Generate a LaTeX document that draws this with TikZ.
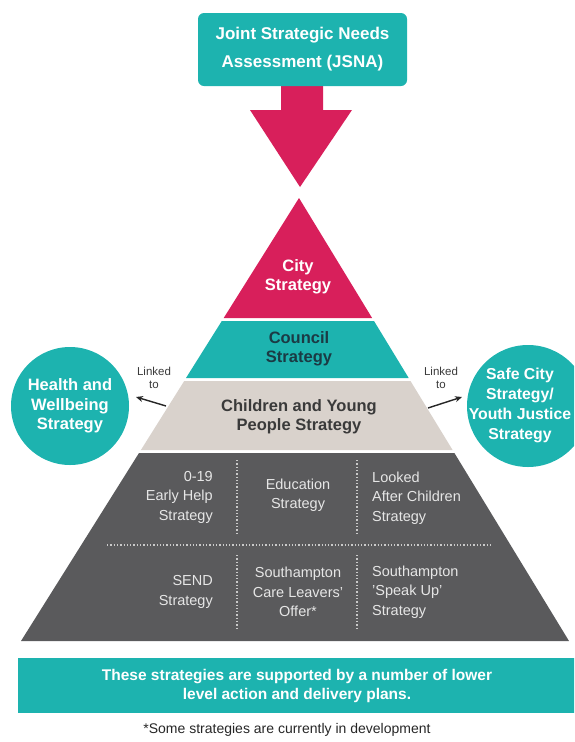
\documentclass[tikz,border=0pt]{standalone}
\usepackage{fontspec}
\setmainfont{Liberation Sans}
\usetikzlibrary{arrows.meta}
\definecolor{tealc}{HTML}{1DB3AF}
\definecolor{magc}{HTML}{D81F5B}
\definecolor{beigec}{HTML}{D9D2CC}
\definecolor{darkc}{HTML}{5A5A5C}
\definecolor{navyc}{HTML}{1B3A44}
\definecolor{greytxt}{HTML}{3A3A3A}
\definecolor{lighttxt}{HTML}{E6E6E6}
\tikzset{
  boldtxt/.style={inner sep=0pt, align=center, font=\bfseries\fontsize{16.5}{19}\selectfont},
  darktxt/.style={inner sep=0pt, text=lighttxt, font=\fontsize{14.5}{19.5}\selectfont},
  linktxt/.style={inner sep=0pt, align=center, text=greytxt, font=\fontsize{11.5}{13}\selectfont},
  circ/.style={circle, fill=tealc, inner sep=0pt, text=white, align=center, font=\bfseries\fontsize{16.5}{19.5}\selectfont},
  linkarrow/.style={-{Stealth[length=7pt,width=6pt]}, line width=1.4pt, black!85},
  dotline/.style={draw=lighttxt!80!darkc, line width=1.3pt, dash pattern=on 1.3pt off 2pt}
}
\begin{document}
\begin{tikzpicture}[x=1pt,y=-1pt]
\useasboundingbox (0,0) rectangle (574,742);
\clip (0,0) rectangle (574,742);
% big arrow
\fill[magc] (281,80) -- (323,80) -- (323,110) -- (352,110) -- (300,187) -- (250,110) -- (281,110) -- cycle;
% JSNA box
\node[fill=tealc, rounded corners=6pt, minimum width=209pt, minimum height=73pt, inner sep=0pt,
  text=white, align=center, font=\bfseries\fontsize{17}{28}\selectfont] (jsna) at (302.5,49.5)
  {Joint Strategic Needs\\Assessment (JSNA)};
% pyramid
\fill[magc] (299,198) -- (223.7,318) -- (372.1,318) -- cycle;
\fill[tealc] (221.8,321) -- (374.0,321) -- (408.7,378) -- (186.0,378) -- cycle;
\fill[beigec] (184.2,381) -- (410.5,381) -- (452.6,450) -- (140.9,450) -- cycle;
\fill[darkc] (139.0,453) -- (454.4,453) -- (569,641) -- (21,641) -- cycle;
% pyramid texts
\node[boldtxt, text=white] (city) at (298,277) {City\\Strategy};
\node[boldtxt, text=navyc] (council) at (299,349) {Council\\Strategy};
\node[boldtxt, text=greytxt] (cyp) at (299,417) {Children and Young\\People Strategy};
% dotted separators
\draw[dotline] (107,545) -- (492,545);
\draw[dotline] (237,460) -- (237,533);
\draw[dotline] (357,460) -- (357,533);
\draw[dotline] (237,555) -- (237,630);
\draw[dotline] (357,555) -- (357,630);
% dark band texts
\node[darktxt, align=right, anchor=east] (early) at (213,497) {0-19\\Early Help\\Strategy};
\node[darktxt, align=center] (edu) at (298,495) {Education\\Strategy};
\node[darktxt, align=left, anchor=west] (lac) at (372,498) {Looked\\After Children\\Strategy};
\node[darktxt, align=right, anchor=east] (send) at (213,592) {SEND\\Strategy};
\node[darktxt, align=center] (care) at (298,592) {Southampton\\Care Leavers'\\Offer*};
\node[darktxt, align=left, anchor=west] (speak) at (372,592) {Southampton\\'Speak Up'\\Strategy};
% circles
\node[circ, minimum size=118pt] (hw) at (70,406) {Health and\\Wellbeing\\Strategy};
\node[circ, minimum size=122pt] (safe) at (528,406) {};
\node[inner sep=0pt, text=white, align=center, font=\bfseries\fontsize{15.8}{20}\selectfont] (safetxt) at (520,405) {Safe City\\Strategy/\\Youth Justice\\Strategy};
% linked to
\node[linktxt] (linkL) at (154,378) {Linked\\to};
\node[linktxt] (linkR) at (441,378) {Linked\\to};
\coordinate (lA) at (166,406);
\coordinate (lB) at (136,397);
\coordinate (rA) at (428,408);
\coordinate (rB) at (462,397);
\draw[linkarrow] (lA) -- (lB);
\draw[linkarrow] (rA) -- (rB);
% bottom box
\fill[tealc] (18,658) rectangle (580,713);
\node[inner sep=0pt, text=white, align=center, font=\bfseries\fontsize{15.5}{18.5}\selectfont] (support) at (297,686)
  {These strategies are supported by a number of lower\\level action and delivery plans.};
\node[inner sep=0pt, text=black!85, font=\fontsize{14}{16}\selectfont] (note) at (287,730)
  {*Some strategies are currently in development};
\end{tikzpicture}
\end{document}
